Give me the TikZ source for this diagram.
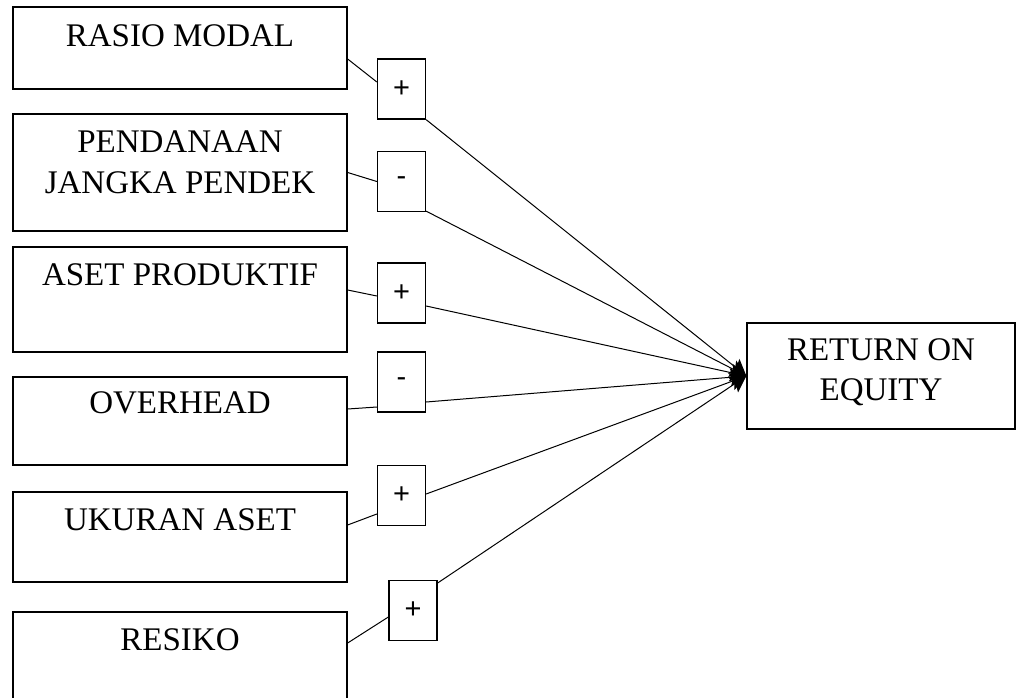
\documentclass[tikz,border=0pt]{standalone}
\usepackage{fontspec}
\setmainfont{Liberation Serif}
\newfontfamily\signfont{Liberation Sans}
\usetikzlibrary{calc,arrows.meta,backgrounds}
\tikzset{
  bigbox/.style={draw, line width=1.3pt, minimum width=334pt, inner sep=0pt, fill=white},
  signbox/.style={draw, line width=1.3pt, minimum width=48pt, minimum height=60pt, inner sep=0pt, fill=white, font=\signfont\fontsize{29}{29}\selectfont},
  boxtext/.style={anchor=base, align=center, font=\fontsize{33}{40}\selectfont, inner sep=0pt},
  link/.style={line width=1pt},
  arr/.style={line width=1pt, -{Stealth[length=16pt,width=18pt,inset=3pt]}}
}
\begin{document}
\begin{tikzpicture}[x=1pt,y=-1pt]
\useasboundingbox (0,0) rectangle (1017,698);
% big boxes
\node[bigbox, minimum height=82pt]  (b1) at (180,48) {};
\node[bigbox, minimum height=117pt] (b2) at (180,172.5) {};
\node[bigbox, minimum height=105pt] (b3) at (180,299.5) {};
\node[bigbox, minimum height=88pt]  (b4) at (180,421) {};
\node[bigbox, minimum height=90pt]  (b5) at (180,537) {};
\node[bigbox, minimum height=100pt] (b6) at (180,662) {};
\node[draw, line width=1.3pt, minimum width=268pt, minimum height=106pt, inner sep=0pt] (roe) at (881,376) {};
% texts
\node[boxtext] (t1) at (180,47) {RASIO MODAL};
\node[boxtext] (t2a) at (180,153) {PENDANAAN};
\node[boxtext] (t2b) at (180,193) {JANGKA PENDEK};
\node[boxtext] (t3) at (180,285) {ASET PRODUKTIF};
\node[boxtext] (t4) at (180,413) {OVERHEAD};
\node[boxtext] (t5) at (180,530) {UKURAN ASET};
\node[boxtext] (t6) at (180,650) {RESIKO};
\node[boxtext] (t7a) at (881,360) {RETURN ON};
\node[boxtext] (t7b) at (881,400) {EQUITY};
% sign boxes
\node[signbox] (sA) at (401.5,89) {+};
\node[signbox] (sB) at (401.5,181.5) {-};
\node[signbox] (sC) at (401.5,293) {+};
\node[signbox] (sD) at (401.5,382) {-};
\node[signbox] (sE) at (401.5,495.5) {+};
\node[signbox] (sF) at (413,610.5) {+};
% connectors
\begin{scope}[on background layer]
\draw[link] ($(b1.east)+(0,11)$) -- ($(sA.west)+(0,-7)$);
\draw[arr] (sA.south east) -- (roe.west);
\draw[link] (b2.east) -- (sB.west);
\draw[arr] ($(sB.south east)+(0,-1)$) -- (roe.west);
\draw[link] ($(b3.east)+(0,-9.5)$) -- ($(sC.west)+(0,3)$);
\draw[arr] ($(sC.east)+(0,13)$) -- (roe.west);
\draw[link] ($(b4.east)+(0,-12)$) -- ($(sD.west)+(0,25)$);
\draw[arr] ($(sD.east)+(0,20)$) -- (roe.west);
\draw[link] ($(b5.east)+(0,-12)$) -- ($(sE.west)+(0,18.5)$);
\draw[arr] ($(sE.east)+(0,-1.5)$) -- (roe.west);
\draw[link] ($(b6.east)+(0,-19)$) -- ($(sF.west)+(0,6.5)$);
\draw[arr] ($(sF.east)+(0,-27.5)$) -- (roe.west);
\end{scope}
\end{tikzpicture}
\end{document}
